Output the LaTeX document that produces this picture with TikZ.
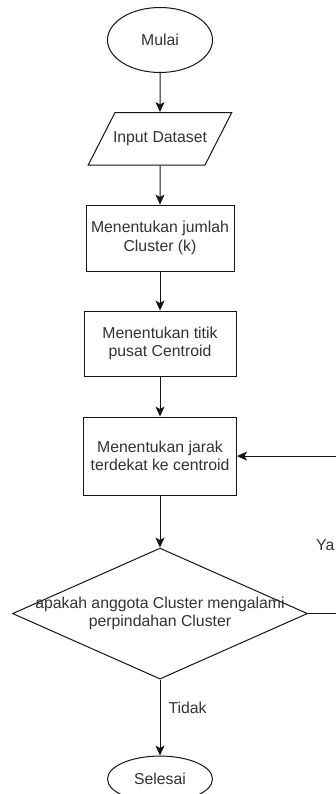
\documentclass[tikz,border=0pt]{standalone}
\usepackage{fontspec}
\setsansfont{Liberation Sans}
\usepackage{tikz}
\usetikzlibrary{shapes}
\usetikzlibrary{shapes.geometric}
\usetikzlibrary{arrows.meta}
\usetikzlibrary{positioning}
\usepackage{xcolor}
\definecolor{myblack}{HTML}{151515}
\definecolor{mytext}{HTML}{333333}
\tikzset{node distance=39pt, every text node part/.style={align=center, font={\sffamily\fontsize{15.8}{18.5}\selectfont}}}
\tikzstyle{block} = [draw=myblack, fill=white, text=mytext, line width=1pt, inner sep=0pt]
\tikzstyle{term} = [block, ellipse, minimum width=105pt]
\tikzstyle{io} = [block, trapezium, trapezium left angle=63, trapezium right angle=117, inner xsep=-2pt, inner ysep=19.2pt]
\tikzstyle{decision} = [block, diamond, minimum width=295pt, minimum height=131pt]
\tikzstyle{lbl} = [text=mytext, inner sep=2pt]
\tikzstyle{ln} = [draw=myblack, line width=1pt, -{Stealth[length=10pt, width=9pt, inset=2.5pt]}]

\begin{document}
\begin{tikzpicture}
  \clip (0,0) rectangle (336pt,-794pt);
  \node[term, minimum height=65pt] (mulai) at (160pt,-40pt) {Mulai};
  \node[io, below=of mulai] (input) {Input Dataset};
  \node[block, minimum width=148pt, minimum height=66pt, below=of input] (jumlah) {Menentukan jumlah\\Cluster (k)};
  \node[block, minimum width=152pt, minimum height=65pt, below=of jumlah] (titik) {Menentukan titik\\pusat Centroid};
  \node[block, minimum width=153pt, minimum height=78pt, below=40pt of titik] (jarak) {Menentukan jarak\\terdekat ke centroid};
  \node[decision, below=52pt of jarak] (cek) {\makebox[0pt]{apakah anggota Cluster mengalami}\\\makebox[0pt]{perpindahan Cluster}};
  \node[term, minimum height=46pt, below=76pt of cek] (selesai) {Selesai};
  \node[lbl, anchor=west] (ya) at (314pt,-545pt) {Ya};
  \draw[ln] (mulai) -- (input);
  \draw[ln] (input) -- (jumlah);
  \draw[ln] (jumlah) -- (titik);
  \draw[ln] (titik) -- (jarak);
  \draw[ln] (jarak) -- (cek);
  \draw[ln] (cek) -- node[lbl, pos=0.37, right=6pt] (tidak) {Tidak} (selesai);
  \draw[ln] (cek.east) -- ++(45pt,0) |- (jarak.east);
\end{tikzpicture}
\end{document}
